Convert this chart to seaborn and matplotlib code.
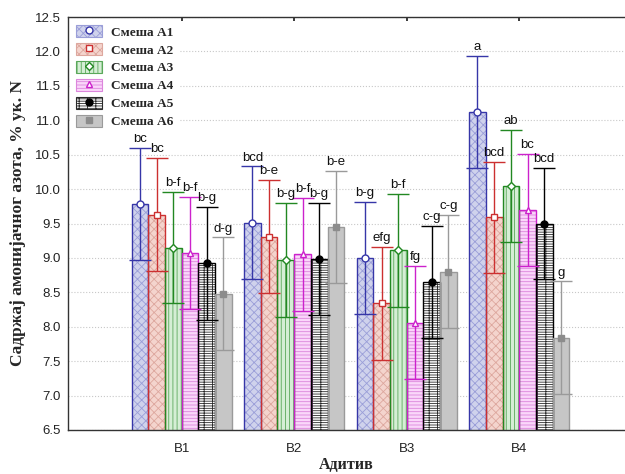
import numpy as np
import pandas as pd
import matplotlib
matplotlib.use("Agg")
import matplotlib.pyplot as plt
import seaborn as sns
from matplotlib.patches import Rectangle, Patch
from matplotlib.lines import Line2D
from matplotlib.legend_handler import HandlerTuple

# ---- data -------------------------------------------------------------
categories = ["B1", "B2", "B3", "B4"]
mixes = ["Смеша А1", "Смеша А2", "Смеша А3", "Смеша А4", "Смеша А5", "Смеша А6"]

mean_a1 = [9.78, 9.51, 9.00, 11.12]
mean_a2 = [9.63, 9.31, 8.34, 9.59]
mean_a3 = [9.15, 8.97, 9.11, 10.05]
mean_a4 = [9.07, 9.05, 8.06, 9.70]
mean_a5 = [8.92, 8.99, 8.65, 9.50]
mean_a6 = [8.48, 9.45, 8.80, 7.84]

err_a1 = [0.815, 0.82, 0.81, 0.81]
err_a2 = [0.82, 0.82, 0.825, 0.81]
err_a3 = [0.81, 0.83, 0.82, 0.815]
err_a4 = [0.815, 0.82, 0.82, 0.815]
err_a5 = [0.82, 0.815, 0.82, 0.81]
err_a6 = [0.817, 0.81, 0.82, 0.82]

lab_a1 = ["bc", "bcd", "b-g", "a"]
lab_a2 = ["bc", "b-e", "efg", "bcd"]
lab_a3 = ["b-f", "b-g", "b-f", "ab"]
lab_a4 = ["b-f", "b-f", "fg", "bc"]
lab_a5 = ["b-g", "b-g", "c-g", "bcd"]
lab_a6 = ["d-g", "b-e", "c-g", "g"]

y_ticks = [6.5, 7.0, 7.5, 8.0, 8.5, 9.0, 9.5, 10.0, 10.5, 11.0, 11.5, 12.0, 12.5]

means = [mean_a1, mean_a2, mean_a3, mean_a4, mean_a5, mean_a6]
errors = [err_a1, err_a2, err_a3, err_a4, err_a5, err_a6]
letters = [lab_a1, lab_a2, lab_a3, lab_a4, lab_a5, lab_a6]

df = pd.DataFrame({
    "Адитив": np.tile(categories, len(mixes)),
    "Смеша": np.repeat(mixes, len(categories)),
    "value": np.concatenate(means),
})

# ---- styles per mix -----------------------------------------------------
styles = [
    dict(face="#cfd2ec", hatchc="#9a9ed8", hatch="xxxx", edge="#3636a8",
         marker="o", mfc="white", mec="#3636a8"),
    dict(face="#f4d4cd", hatchc="#dda79e", hatch="xxxx", edge="#cc3030",
         marker="s", mfc="white", mec="#cc3030"),
    dict(face="#d5eed5", hatchc="#5aa85a", hatch="||||", edge="#228822",
         marker="D", mfc="white", mec="#228822"),
    dict(face="#fad6fa", hatchc="#dc86dc", hatch="-----", edge="#cc22cc",
         marker="^", mfc="white", mec="#cc22cc"),
    dict(face="#ffffff", hatchc="#2a2a2a", hatch="++-----", edge="#000000",
         marker="o", mfc="black", mec="black"),
    dict(face="#c6c6c6", hatchc="#c6c6c6", hatch="", edge="#9a9a9a",
         marker="s", mfc="#8c8c8c", mec="#8c8c8c"),
]

sns.set_theme(style="white")
plt.rcParams["font.family"] = ["Liberation Sans", "DejaVu Sans"]
plt.rcParams["hatch.linewidth"] = 0.6

fig = plt.figure(figsize=(6.25, 4.74), dpi=100)
ax = fig.add_axes([68 / 625, 44 / 474, (625 - 68) / 625, (430 - 17) / 474])

sns.barplot(data=df, x="Адитив", y="value", hue="Смеша", order=categories,
            hue_order=mixes, palette=[s["face"] for s in styles], saturation=1,
            width=0.89, errorbar=None, legend=False, ax=ax)

for cont, st, errs, labs in zip(ax.containers, styles, errors, letters):
    for bar, err, lab in zip(cont, errs, labs):
        bar.set_hatch(st["hatch"])
        bar.set_edgecolor(st["hatchc"])
        bar.set_linewidth(0)
        ax.add_patch(Rectangle((bar.get_x(), bar.get_y()), bar.get_width(),
                               bar.get_height(), fill=False, ec=st["edge"],
                               lw=1.0, zorder=2.5))
        xc = bar.get_x() + bar.get_width() / 2
        v = bar.get_height()
        ax.errorbar(xc, v, yerr=err, fmt="none", ecolor=st["edge"],
                    elinewidth=1.0, capsize=8, capthick=1.0, zorder=3)
        ax.plot(xc, v, marker=st["marker"], mfc=st["mfc"], mec=st["mec"],
                ms=5 if st["marker"] != "D" else 4, mew=1.0, zorder=4,
                linestyle="none")
        ax.text(xc, v + err + 0.04, lab, ha="center", va="bottom",
                fontsize=9.5, color="#111111", zorder=5)

ax.set_xlim(-1.01, 3.94)
ax.set_ylim(6.5, 12.5)
ax.set_yticks(y_ticks)
ax.set_yticklabels([f"{t:.1f}" for t in y_ticks])
ax.tick_params(axis="y", direction="in", length=3, pad=5, labelsize=9.5,
               colors="#222222")
ax.tick_params(axis="x", direction="in", length=3, top=True, pad=9,
               labelsize=9.5, colors="#222222")
ax.yaxis.grid(True, linestyle=":", color="#c8c8c8", lw=0.8)
ax.set_axisbelow(True)
for side in ["left", "bottom", "top"]:
    ax.spines[side].set_color("#333333")
    ax.spines[side].set_linewidth(1.0)
ax.spines["right"].set_visible(False)

serif = ["Liberation Serif", "DejaVu Serif"]
ax.set_ylabel("Садржај амонијачног азота, % ук. N", va="center",
              family=serif, weight="bold", size=12.5)
ax.yaxis.set_label_coords(-0.09, 0.5)
ax.set_xlabel("Адитив", va="center", family=serif, weight="bold", size=11.5)
ax.xaxis.set_label_coords(0.5, -0.085)

handles = []
for st in styles:
    p = Patch(facecolor=st["face"],
              edgecolor=st["hatchc"] if st["hatch"] else st["edge"],
              hatch=st["hatch"], lw=0.8)
    m = Line2D([], [], marker=st["marker"], mfc=st["mfc"], mec=st["mec"],
               ms=5 if st["marker"] != "D" else 4, linestyle="none")
    handles.append((p, m))
leg = ax.legend(handles, mixes, handler_map={tuple: HandlerTuple(ndivide=1)},
                loc="upper left", bbox_to_anchor=(0.004, 0.995), frameon=True,
                edgecolor="none", facecolor="white", framealpha=1,
                handlelength=1.9, handleheight=1.0, handletextpad=0.7,
                labelspacing=0.33, borderaxespad=0.0, borderpad=0.45,
                prop=dict(family=serif, weight="bold", size=9.6))

fig.savefig("out.png", dpi=100)
